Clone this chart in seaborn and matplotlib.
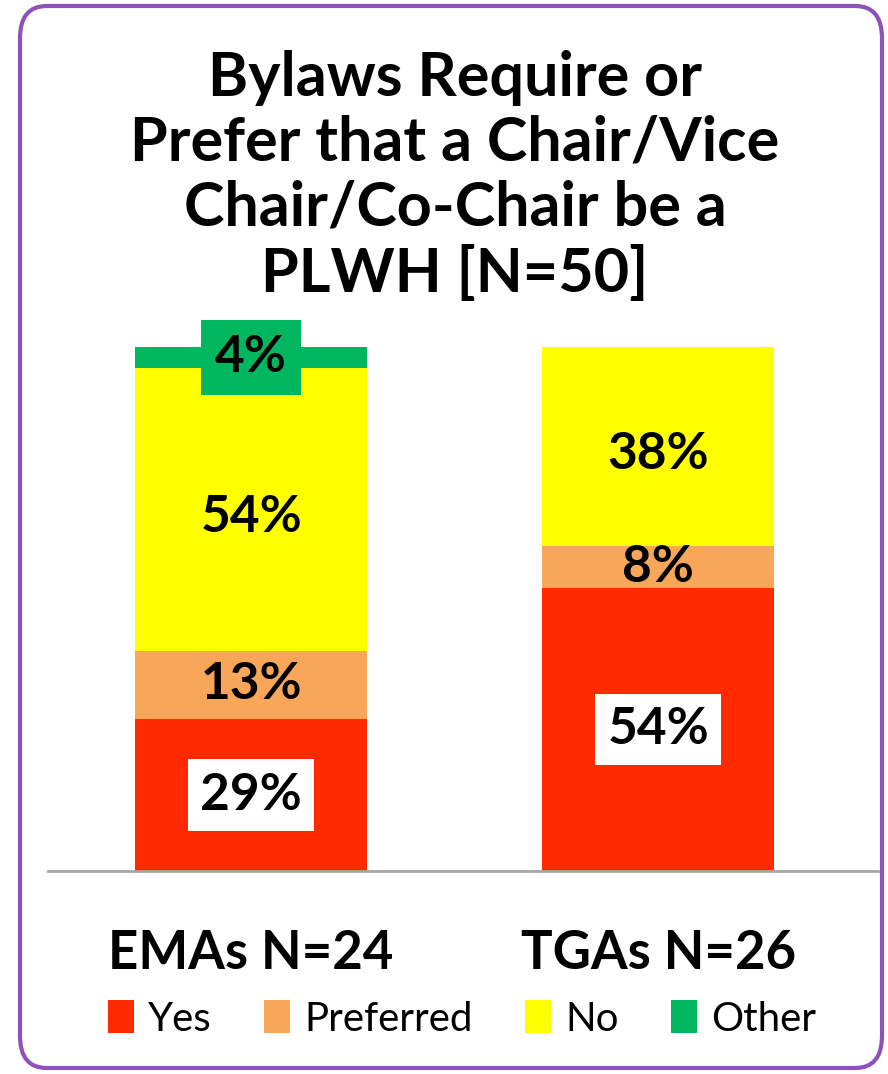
import matplotlib
matplotlib.use("Agg")
import matplotlib.pyplot as plt
import seaborn as sns
import pandas as pd
from matplotlib.patches import FancyBboxPatch, Patch

# data
groups = ["EMAs N=24", "TGAs N=26"]
responses = ["Yes", "Preferred", "No", "Other"]
yes_vals = [29, 54]
preferred_vals = [13, 8]
no_vals = [54, 38]
other_vals = [4, 0]
colors = {"Yes": "#FF2A00", "Preferred": "#F8A65A", "No": "#FFFF00", "Other": "#00B65E"}
title = "Bylaws Require or\nPrefer that a Chair/Vice\nChair/Co-Chair be a\nPLWH [N=50]"

df = pd.DataFrame({"group": groups, "Yes": yes_vals, "Preferred": preferred_vals,
                   "No": no_vals, "Other": other_vals})
cum = df[responses].cumsum(axis=1)
cum["group"] = df["group"]

sns.set_theme(style="white")
plt.rcParams["font.family"] = ["Lato", "DejaVu Sans"]
plt.rcParams["text.color"] = "black"
plt.rcParams["xtick.color"] = "black"

W, H = 888, 1074
fig = plt.figure(figsize=(W / 100, H / 100), dpi=100)

# purple rounded frame
frame = FancyBboxPatch((20 / W, 6 / H), 862 / W, 1062 / H,
                       boxstyle="round,pad=0,rounding_size=0.03",
                       transform=fig.transFigure, facecolor="white",
                       edgecolor="#8E52BC", linewidth=3, zorder=-5)
fig.patches.append(frame)

ax_top, ax_bot = 300, 871
ax = fig.add_axes([48 / W, (H - ax_bot) / H, 830 / W, (ax_bot - ax_top) / H])
ax.set_facecolor("none")
ax.set_zorder(2)

# layered cumulative bars (tallest first)
for r in reversed(responses):
    sns.barplot(data=cum, x="group", y=r, color=colors[r], width=0.57,
                saturation=1, linewidth=0, ax=ax, zorder=2)

ax.set_xlim(-0.499, 1.54)
ax.set_ylim(0, 100 * (ax_bot - ax_top) / 524)
ax.set_xlabel("")
ax.set_ylabel("")
ax.set_yticks([])
ax.tick_params(axis="x", length=0, pad=42)
for lbl in ax.get_xticklabels():
    lbl.set_fontsize(38)
    lbl.set_fontweight("bold")
for s in ["top", "left", "right"]:
    ax.spines[s].set_visible(False)
ax.spines["bottom"].set_color("#A6A6A6")
ax.spines["bottom"].set_linewidth(2)

# value labels
for i in range(len(groups)):
    bottom = 0
    for r in responses:
        v = df.loc[i, r]
        if v > 0:
            y = bottom + v / 2
            box = None
            if r == "Yes":
                box = dict(facecolor="white", edgecolor="none", pad=9)
            elif r == "No":
                y -= 1.6
            elif r == "Other":
                box = dict(facecolor=colors["Other"], edgecolor="none", pad=10)
            ax.text(i, y, f"{v}%", ha="center", va="center", fontsize=37,
                    fontweight="bold", color="black", bbox=box, zorder=5)
        bottom += v

fig.text(455 / W, 1 - 176 / H, title, ha="center", va="center", fontsize=44,
         fontweight="bold", linespacing=1.2)

handles = [Patch(facecolor=colors[r], edgecolor="none") for r in responses]
fig.legend(handles, responses, loc="center", bbox_to_anchor=(462 / W, 1 - 1019 / H),
           ncol=4, frameon=False, fontsize=29, handlelength=0.65, handleheight=0.85,
           handletextpad=0.35, columnspacing=1.3)

fig.savefig("out.png", dpi=100)
